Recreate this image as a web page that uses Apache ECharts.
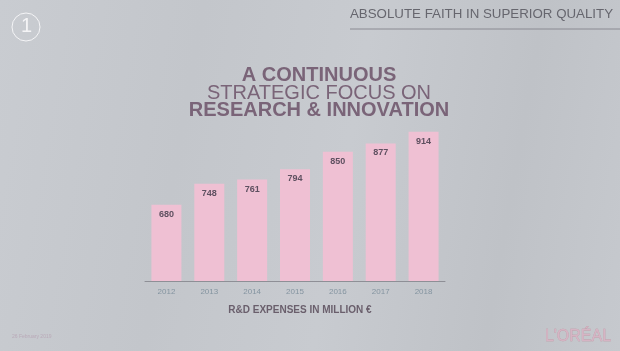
<!DOCTYPE html>
<html><head><meta charset="utf-8">
<script src="https://cdn.jsdelivr.net/npm/echarts@6/dist/echarts.min.js"></script>
<style>html,body{margin:0;padding:0;}#c{width:620px;height:351px;background:linear-gradient(100deg,#c9ccd1 0%,#c3c6cb 30%,#c8cbd0 55%,#bfc2c7 80%,#c6c9ce 100%);}</style>
</head><body><div id="c"></div>
<script>
var years = ['2012','2013','2014','2015','2016','2017','2018'];
var rdExpenses = [680, 748, 761, 794, 850, 877, 914];
var titleLines = ['A CONTINUOUS', 'STRATEGIC FOCUS ON', 'RESEARCH & INNOVATION'];
var headerText = 'ABSOLUTE FAITH IN SUPERIOR QUALITY';
var axisCaption = 'R&D EXPENSES IN MILLION €';

var chart = echarts.init(document.getElementById('c'));
chart.setOption({
  backgroundColor: 'transparent',
  grid: {left: 145, right: 175, top: 100, bottom: 70},
  xAxis: {
    type: 'category', data: years,
    axisLine: {lineStyle: {color: '#8e8f96', width: 1}},
    axisTick: {show: false},
    axisLabel: {color: '#8494a0', fontSize: 8, fontFamily: 'Liberation Sans', margin: 7}
  },
  yAxis: {type: 'value', min: 436, max: 1016, show: false, splitLine: {show: false}},
  series: [{
    type: 'bar', data: rdExpenses, barWidth: '70%',
    itemStyle: {color: '#efc0d3'},
    label: {show: true, position: 'insideTop', distance: 5, color: '#5e5060', fontSize: 9, fontWeight: 'bold', fontFamily: 'Liberation Sans'}
  }],
  graphic: [
    {type: 'circle', shape: {cx: 26, cy: 27, r: 14}, style: {fill: 'none', stroke: '#f4f4f6', lineWidth: 1}},
    {type: 'text', left: 21, top: 16, style: {text: '1', fill: '#f4f4f6', fontSize: 20, fontFamily: 'Liberation Sans', fontWeight: 'normal'}},
    {type: 'text', left: 350, top: 8, style: {text: headerText, fill: '#66666e', fontSize: 13.3, fontFamily: 'Liberation Sans'}},
    {type: 'line', shape: {x1: 350, y1: 29, x2: 620, y2: 29}, style: {stroke: '#8a8a92', lineWidth: 1}},
    {type: 'text', x: 319, y: 75, style: {text: titleLines[0], fill: '#7a6478', fontSize: 20, fontWeight: 'bold', fontFamily: 'Liberation Sans', align: 'center', verticalAlign: 'middle'}},
    {type: 'text', x: 319, y: 93, style: {text: titleLines[1], fill: '#7a6478', fontSize: 20, fontFamily: 'Liberation Sans', align: 'center', verticalAlign: 'middle'}},
    {type: 'text', x: 319, y: 110, style: {text: titleLines[2], fill: '#7a6478', fontSize: 20, fontWeight: 'bold', fontFamily: 'Liberation Sans', align: 'center', verticalAlign: 'middle'}},
    {type: 'text', x: 300, y: 310, style: {text: axisCaption, fill: '#6a5f6c', fontSize: 10, fontWeight: 'bold', fontFamily: 'Liberation Sans', align: 'center', verticalAlign: 'middle'}},
    {type: 'text', x: 12, y: 337, style: {text: '26 February 2019', fill: '#b9a9b8', fontSize: 5, fontFamily: 'Liberation Sans', verticalAlign: 'middle'}},
    {type: 'text', x: 578, y: 337, style: {text: "L'ORÉAL", fill: '#d6b4c4', stroke: '#c0909e', lineWidth: 0.4, fontSize: 16, fontFamily: 'Liberation Sans', align: 'center', verticalAlign: 'middle'}}
  ]
});
</script></body></html>
